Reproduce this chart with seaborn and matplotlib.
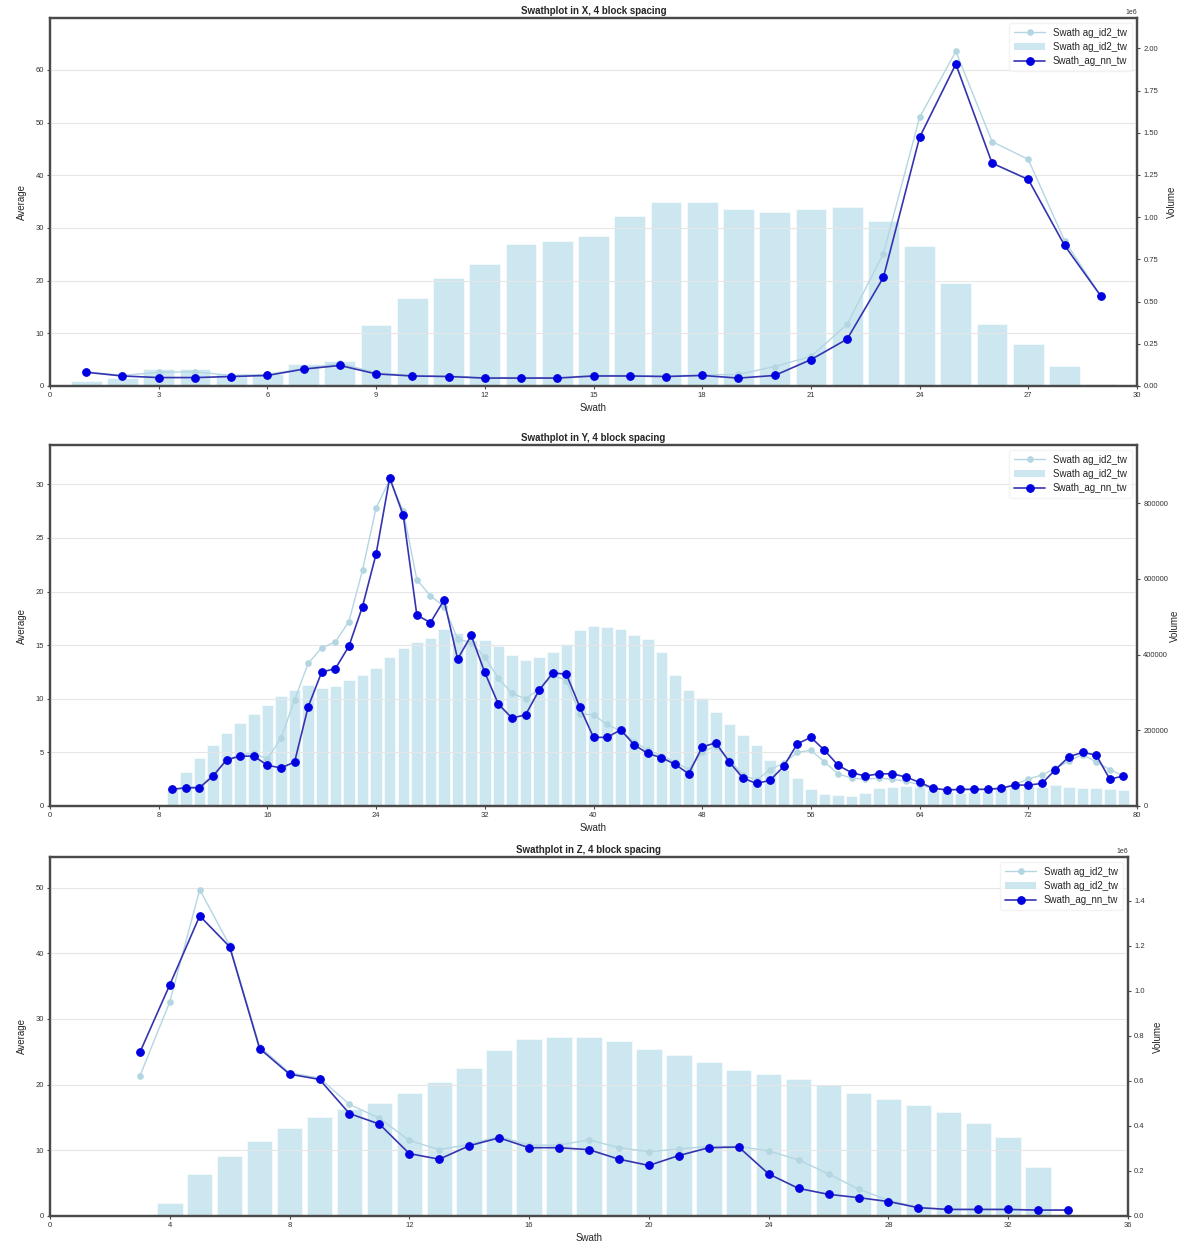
import numpy as np
import matplotlib
matplotlib.use("Agg")
import matplotlib.pyplot as plt
from matplotlib.patches import Patch
from matplotlib.ticker import MultipleLocator
import seaborn as sns

# ---- Swath X ----
x_swath = list(range(1, 30))
x_id2 = [2.7, 2.0, 2.6, 2.7, 2.0, 2.2, 3.3, 4.3, 2.5, 2.0, 1.9, 1.6, 1.6, 1.6, 2.0,
         2.0, 1.9, 2.1, 2.2, 3.7, 5.6, 11.7, 25.1, 51.0, 63.5, 46.4, 43.0, 27.6, 17.1]
x_nn = [2.6, 1.9, 1.6, 1.6, 1.8, 2.0, 3.2, 3.9, 2.3, 1.9, 1.8, 1.5, 1.5, 1.5, 1.9,
        1.9, 1.8, 2.0, 1.5, 2.0, 5.0, 8.9, 20.6, 47.2, 61.1, 42.3, 39.2, 26.7, 17.1]
x_vol = [0.03e6, 0.05e6, 0.10e6, 0.10e6, 0.07e6, 0.07e6, 0.13e6, 0.15e6, 0.36e6, 0.52e6,
         0.64e6, 0.72e6, 0.84e6, 0.86e6, 0.89e6, 1.01e6, 1.09e6, 1.09e6, 1.05e6, 1.03e6,
         1.05e6, 1.06e6, 0.98e6, 0.83e6, 0.61e6, 0.37e6, 0.25e6, 0.12e6, 0.01e6]

# ---- Swath Y ----
y_swath = list(range(9, 80))
y_id2 = [1.55, 1.75, 1.8, 2.9, 4.3, 4.8, 4.9, 4.4, 6.3, 9.9, 13.3, 14.75, 15.3, 17.2, 22.0,
         27.8, 30.4, 27.5, 21.1, 19.6, 18.6, 15.6, 15.2, 13.9, 11.9, 10.5, 10.0, 10.9, 12.2, 11.7,
         8.6, 8.5, 7.6, 7.0, 6.0, 5.2, 4.7, 4.1, 3.4, 5.0, 5.6, 4.3, 2.9, 2.4, 3.4,
         4.0, 5.0, 5.2, 4.1, 3.0, 2.6, 2.5, 2.6, 2.5, 2.3, 2.0, 1.6, 1.5, 1.5, 1.6,
         1.6, 1.7, 2.0, 2.5, 2.9, 3.5, 4.2, 4.8, 4.1, 3.4, 2.8]
y_nn = [1.55, 1.7, 1.7, 2.8, 4.3, 4.65, 4.65, 3.8, 3.55, 4.1, 9.25, 12.5, 12.8, 14.9, 18.6,
        23.5, 30.6, 27.1, 17.8, 17.1, 19.2, 13.7, 15.9, 12.45, 9.5, 8.2, 8.5, 10.8, 12.4, 12.3,
        9.2, 6.4, 6.4, 7.1, 5.7, 4.9, 4.5, 3.9, 3.0, 5.5, 5.9, 4.1, 2.6, 2.1, 2.4,
        3.7, 5.8, 6.4, 5.2, 3.8, 3.1, 2.8, 3.0, 3.0, 2.7, 2.2, 1.65, 1.5, 1.55, 1.55,
        1.55, 1.65, 1.95, 1.95, 2.1, 3.4, 4.6, 5.0, 4.75, 2.5, 2.8]
y_vol = [45000, 90000, 126000, 162000, 192000, 220000, 242000, 268000, 292000, 306000,
         319000, 312000, 316000, 333000, 347000, 365000, 395000, 418000, 433000, 444000,
         469000, 458000, 440000, 438000, 424000, 400000, 387000, 394000, 406000, 428000,
         466000, 477000, 474000, 467000, 452000, 441000, 408000, 346000, 307000, 285000,
         249000, 218000, 188000, 161000, 122000, 95000, 73000, 44000, 33000, 29000,
         26000, 35000, 47000, 51000, 53000, 51000, 42000, 38000, 35000, 38000,
         40000, 47000, 51000, 53000, 51000, 55000, 51000, 48000, 47000, 44000, 42000]

# ---- Swath Z ----
z_swath = list(range(3, 35))
z_id2 = [21.3, 32.6, 49.7, 41.2, 25.8, 21.8, 21.0, 17.0, 14.9, 11.5, 10.1, 10.9, 12.1, 10.8,
         10.8, 11.6, 10.4, 9.8, 10.2, 10.6, 10.6, 9.9, 8.55, 6.4, 4.1, 2.4, 1.3, 1.0, 1.0,
         1.0, 0.9, 0.9]
z_nn = [24.9, 35.2, 45.7, 41.0, 25.5, 21.6, 20.8, 15.6, 14.0, 9.5, 8.65, 10.7, 11.9, 10.4,
        10.4, 10.1, 8.65, 7.7, 9.2, 10.4, 10.5, 6.4, 4.2, 3.3, 2.8, 2.2, 1.27, 1.0, 1.0,
        1.0, 0.9, 0.9]
z_vol_swath = list(range(4, 34))
z_vol = [0.059e6, 0.185e6, 0.267e6, 0.334e6, 0.389e6, 0.44e6, 0.475e6, 0.50e6, 0.545e6,
         0.596e6, 0.657e6, 0.737e6, 0.786e6, 0.794e6, 0.797e6, 0.779e6, 0.742e6, 0.717e6,
         0.682e6, 0.650e6, 0.631e6, 0.608e6, 0.583e6, 0.545e6, 0.519e6, 0.493e6, 0.46e6,
         0.415e6, 0.349e6, 0.218e6]

LABEL_ID2 = "Swath ag_id2_tw"
LABEL_NN = "Swath_ag_nn_tw"
BAR_COLOR = "#add8e6"
LIGHT_COLOR = "#b3d6e2"
DARK_COLOR = "#0000e0"

sns.set_style("whitegrid", {
    "axes.edgecolor": "#4a4a4a",
    "grid.color": "#e6e6e6",
    "xtick.bottom": True,
    "ytick.left": True,
    "ytick.right": True,
})
plt.rcParams["font.family"] = ["Liberation Sans", "DejaVu Sans"]

fig = plt.figure(figsize=(11.83, 12.45), dpi=100)
W, H = 1183, 1245


def rect(left, top, right, bottom):
    return [left / W, 1 - bottom / H, (right - left) / W, (bottom - top) / H]


def swath_panel(box, title, xs, id2, nn, xb, vol, xmax, xstep, ystep, vstep, vpad):
    ax = fig.add_axes(box)
    ax2 = ax.twinx()

    sns.barplot(x=xb, y=vol, ax=ax2, native_scale=True, color=BAR_COLOR,
                saturation=1, alpha=0.6, width=0.85, errorbar=None,
                edgecolor="white", linewidth=0.6)
    sns.lineplot(x=xs, y=id2, ax=ax, color=LIGHT_COLOR, marker="o", markersize=4,
                 markeredgecolor=LIGHT_COLOR, linewidth=1.0, label=LABEL_ID2)
    sns.lineplot(x=xs, y=nn, ax=ax, color=DARK_COLOR, marker="o", markersize=5.5,
                 markeredgecolor=DARK_COLOR, linewidth=1.2, label=LABEL_NN)
    ax.lines[-1].set_color("#3434b0")
    ax.lines[-1].set_markerfacecolor(DARK_COLOR)
    ax.lines[-1].set_markeredgecolor(DARK_COLOR)

    ax.set_zorder(ax2.get_zorder() + 1)
    ax.patch.set_visible(False)
    ax2.grid(False)
    ax.grid(axis="x", visible=False)
    ax2.set_facecolor("white")

    ax.set_xlim(0, xmax)
    ax2.set_xlim(0, xmax)
    ax.set_ylim(0, 1.1 * max(max(id2), max(nn)))
    ax2.set_ylim(0, 2 * max(vol))
    ax.xaxis.set_major_locator(MultipleLocator(xstep))
    ax.yaxis.set_major_locator(MultipleLocator(ystep))
    ax2.yaxis.set_major_locator(MultipleLocator(vstep))

    for a in (ax, ax2):
        for s in a.spines.values():
            s.set_linewidth(1.6)
            s.set_color("#4a4a4a")
        a.tick_params(labelsize=5.5, length=2.5, width=0.8, colors="#4a4a4a",
                      labelcolor="#333333", pad=2)
    ax2.yaxis.get_offset_text().set_fontsize(5)

    ax.set_title(title, fontsize=7, fontweight="bold", pad=3)
    ax.set_xlabel("Swath", fontsize=7, labelpad=3)
    ax.set_ylabel("Average", fontsize=7, labelpad=6)
    ax2.set_ylabel("Volume", fontsize=7, labelpad=vpad)

    handles = [ax.lines[0], Patch(facecolor=BAR_COLOR, alpha=0.6, edgecolor="none"),
               ax.lines[1]]
    ax.legend(handles, [LABEL_ID2, LABEL_ID2, LABEL_NN], loc="upper right",
              fontsize=7, frameon=True, framealpha=0.8, edgecolor="#f0f0f0",
              handlelength=3.2, borderpad=0.5, labelspacing=0.45)
    return ax, ax2


swath_panel(rect(50, 18, 1137, 386), "Swathplot in X, 4 block spacing",
            x_swath, x_id2, x_nn, x_swath, x_vol, 30, 3, 10, 250000, 6)
swath_panel(rect(50, 445, 1137, 806), "Swathplot in Y, 4 block spacing",
            y_swath, y_id2, y_nn, y_swath, y_vol, 80, 8, 5, 200000, 1)
swath_panel(rect(50, 857, 1128, 1216), "Swathplot in Z, 4 block spacing",
            z_swath, z_id2, z_nn, z_vol_swath, z_vol, 36, 4, 10, 200000, 6)

fig.savefig("out.png", dpi=100)
